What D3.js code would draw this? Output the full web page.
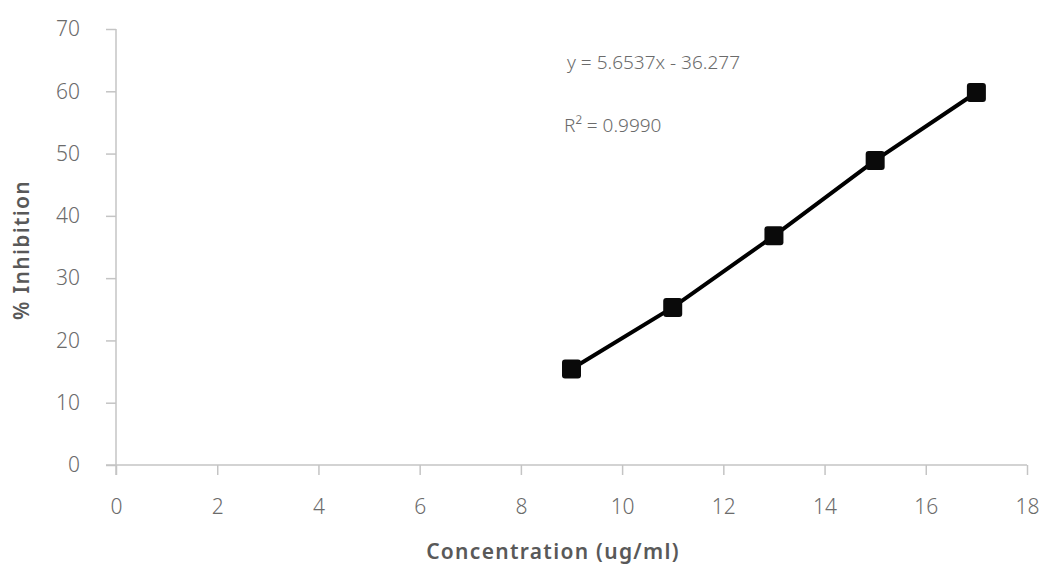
<!DOCTYPE html>
<html>
<head>
<meta charset="utf-8">
<script src="https://cdn.jsdelivr.net/npm/d3@7"></script>
<style>
    body { margin: 0; background: #fff; }
    svg { display: block; }
    .axis path, .axis line { stroke: #c4c4c4; stroke-width: 1.5px; }
    .axis text { font-family: "Noto Sans", sans-serif; font-size: 21px; font-weight: 300; }
    .title { font-family: "Noto Sans", sans-serif; font-size: 21px; font-weight: 600; fill: #595959; letter-spacing: 1.3px; }
    .eq { font-family: "Noto Sans", sans-serif; font-size: 19px; font-weight: 300; fill: #6b6b6b; }
</style>
</head>
<body>
<svg id="chart" width="1045" height="566"></svg>
<script>

// Data
var concentration = [9, 11, 13, 15, 17];
var inhibition = [15.4, 25.3, 36.8, 48.9, 59.8];
var xTicks = [0, 2, 4, 6, 8, 10, 12, 14, 16, 18];
var yTicks = [0, 10, 20, 30, 40, 50, 60, 70];
var equationLabel = 'y = 5.6537x - 36.277';
var r2Label = 'R² = 0.9990';

var svg = d3.select('#chart');

// Plot area
var plotLeft = 116, plotRight = 1027, plotTop = 29, plotBottom = 465;

var x = d3.scaleLinear().domain([0, 18]).range([plotLeft, plotRight]);
var y = d3.scaleLinear().domain([0, 70]).range([plotBottom, plotTop]);

// x axis
svg.append('g')
    .attr('class', 'axis')
    .attr('transform', 'translate(0,' + plotBottom + ')')
    .call(d3.axisBottom(x).tickValues(xTicks).tickSize(10).tickSizeOuter(0).tickPadding(24))
    .call(function(g){ g.select('.domain').attr('d', 'M' + (plotLeft - 10) + ',0H' + plotRight); });

// y axis
svg.append('g')
    .attr('class', 'axis')
    .attr('transform', 'translate(' + plotLeft + ',0)')
    .call(d3.axisLeft(y).tickValues(yTicks).tickSize(10).tickSizeOuter(0).tickPadding(26))
    .call(function(g){ g.select('.domain').attr('d', 'M0,' + plotTop + 'V' + (plotBottom + 10)); });

svg.selectAll('.axis .tick text').attr('fill', '#6b6b6b');

// Series line
var points = concentration.map(function(c, i){ return [c, inhibition[i]]; });

svg.append('path')
    .datum(points)
    .attr('fill', 'none')
    .attr('stroke', '#000')
    .attr('stroke-width', 4)
    .attr('d', d3.line().x(function(d){ return x(d[0]); }).y(function(d){ return y(d[1]); }));

// Markers
var size = 19;
svg.selectAll('.marker')
    .data(points)
    .enter().append('rect')
    .attr('class', 'marker')
    .attr('x', function(d){ return x(d[0]) - size / 2; })
    .attr('y', function(d){ return y(d[1]) - size / 2; })
    .attr('width', size)
    .attr('height', size)
    .attr('rx', 3)
    .attr('fill', '#0a0a0a');

// Trendline label
svg.append('text').attr('class', 'eq')
    .attr('x', 567).attr('y', 69)
    .text(equationLabel);
svg.append('text').attr('class', 'eq')
    .attr('x', 564).attr('y', 132)
    .text(r2Label);

// Axis titles
svg.append('text').attr('class', 'title')
    .attr('x', 553).attr('y', 559)
    .attr('text-anchor', 'middle')
    .text('Concentration (ug/ml)');

svg.append('text').attr('class', 'title')
    .attr('transform', 'translate(29,250) rotate(-90)')
    .attr('text-anchor', 'middle')
    .text('% Inhibition');

</script>
</body>
</html>
